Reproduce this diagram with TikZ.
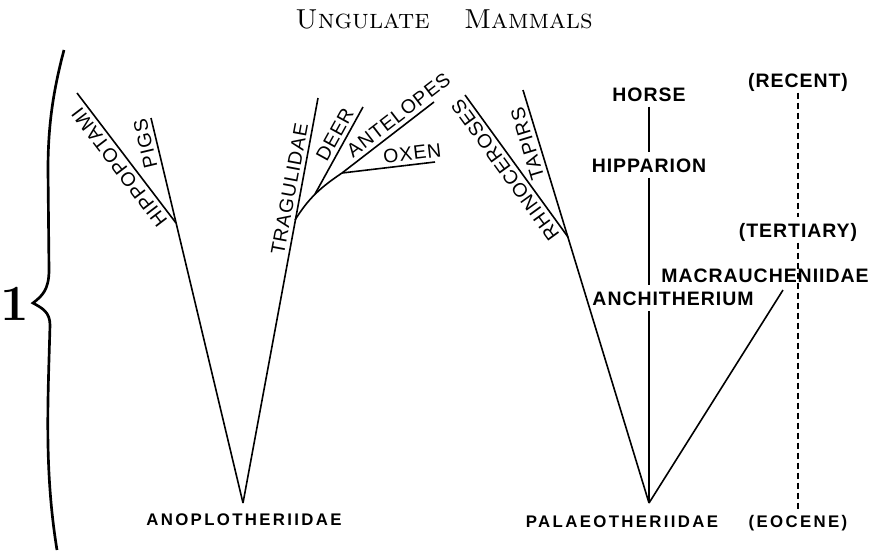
\documentclass[tikz,border=0pt]{standalone}
\usepackage{fontspec}
\usepackage{tikz}
\usetikzlibrary{calc}
\newfontfamily\taxonfont[LetterSpace=14]{Liberation Sans}
\newfontfamily\genusfont[LetterSpace=5]{Liberation Sans}

\begin{document}
\begin{tikzpicture}[x=0.75pt, y=-0.75pt,
    branch/.style={line width=1.2pt},
    era/.style={line width=1pt, dash pattern=on 4.5pt off 3pt},
    taxon/.style={font=\taxonfont\bfseries\fontsize{12.6}{14}\selectfont, text height=9pt, text depth=0pt, inner sep=3pt},
    clade/.style={font=\genusfont\fontsize{14.6}{17}\selectfont, text height=10.5pt, text depth=0pt, inner sep=3pt, anchor=south},
    genus/.style={font=\genusfont\bfseries\fontsize{14.6}{17}\selectfont, text height=10.5pt, text depth=0pt, inner sep=4pt}]
  \useasboundingbox (0,0) rectangle (871,551);

  % title and brace
  \node (title) at (444,19) {\fontsize{20.6}{24}\selectfont\textsc{Ungulate\hspace{1.25em}Mammals}};
  \node (part) at (15,304) {\fontsize{38}{40}\selectfont\bfseries 1};
  \draw[line width=2pt] (64,50) .. controls (52,95) and (48,130) .. (48,170) -- (49,270)
    .. controls (49,290) and (42,296) .. (33,303) .. controls (42,308) and (50,312) .. (50,325)
    .. controls (48,400) and (44,470) .. (57,550);

  % left tree
  \coordinate (anoplo) at (243,503);
  \coordinate (jhippo) at (176,223);
  \coordinate (hippotip) at (77,93);
  \coordinate (pigtip) at (151,118);
  \coordinate (tragtip) at (318,98);
  \coordinate (jtrag) at (295,220);
  \coordinate (jdeer) at (315,194);
  \coordinate (deertip) at (363,107);
  \coordinate (jant) at (342,173);
  \coordinate (anttip) at (434,102);
  \coordinate (oxtip) at (435,162);

  \draw[branch] (anoplo) -- (pigtip) node[clade, pos=.94, rotate=103.4] (pigs) {PIGS};
  \draw[branch] (jhippo) -- (hippotip) node[clade, pos=.48, rotate=127.3] (hippo) {HIPPOPOTAMI};
  \draw[branch] (anoplo) -- (tragtip) node[clade, pos=.77, rotate=79.5] (trag) {TRAGULIDAE};
  \draw[branch] (jtrag) to[out=58, in=214] (jant);
  \draw[branch] (jdeer) -- (deertip) node[clade, pos=.62, rotate=61.1] (deer) {DEER};
  \draw[branch] (jant) -- (anttip) node[clade, pos=.69, rotate=37.7] (ant) {ANTELOPES};
  \draw[branch] (jant) -- (oxtip) node[clade, pos=.77, rotate=6.7] (oxen) {OXEN};
  \node[taxon] (anoplolbl) at (244,519) {ANOPLOTHERIIDAE};

  % right tree
  \coordinate (palaeo) at (649,503);
  \coordinate (jrhino) at (568,237);
  \coordinate (rhinotip) at (465,95);
  \coordinate (taptip) at (523,90);
  \coordinate (macrtip) at (783,290);

  \draw[branch] (palaeo) -- (taptip) node[clade, pos=.878, rotate=107] (tapirs) {TAPIRS};
  \draw[branch] (jrhino) -- (rhinotip) node[clade, pos=.52, rotate=126] (rhino) {RHINOCEROSES};
  \node[taxon] (palaeolbl) at (622,521) {PALAEOTHERIIDAE};

  \node[genus] (horse) at (649,94) {HORSE};
  \node[genus] (hipparion) at (649,165) {HIPPARION};
  \node[genus] (anchith) at (673,298) {ANCHITHERIUM};
  \node[genus] (macr) at (765,275) {MACRAUCHENIIDAE};
  \draw[branch] (horse) -- (hipparion);
  \draw[branch] (hipparion) -- (hipparion |- anchith.north);
  \draw[branch] (palaeo) -- (palaeo |- anchith.south);
  \draw[branch] (palaeo) -- (macrtip);

  % periods
  \node[genus] (recent) at (798,80) {(RECENT)};
  \node[genus] (tertiary) at (798,230) {(TERTIARY)};
  \node[taxon] (eocene) at (798,521) {(EOCENE)};
  \draw[era] (recent) -- (tertiary);
  \draw[era] (tertiary) -- (eocene);
\end{tikzpicture}
\end{document}
